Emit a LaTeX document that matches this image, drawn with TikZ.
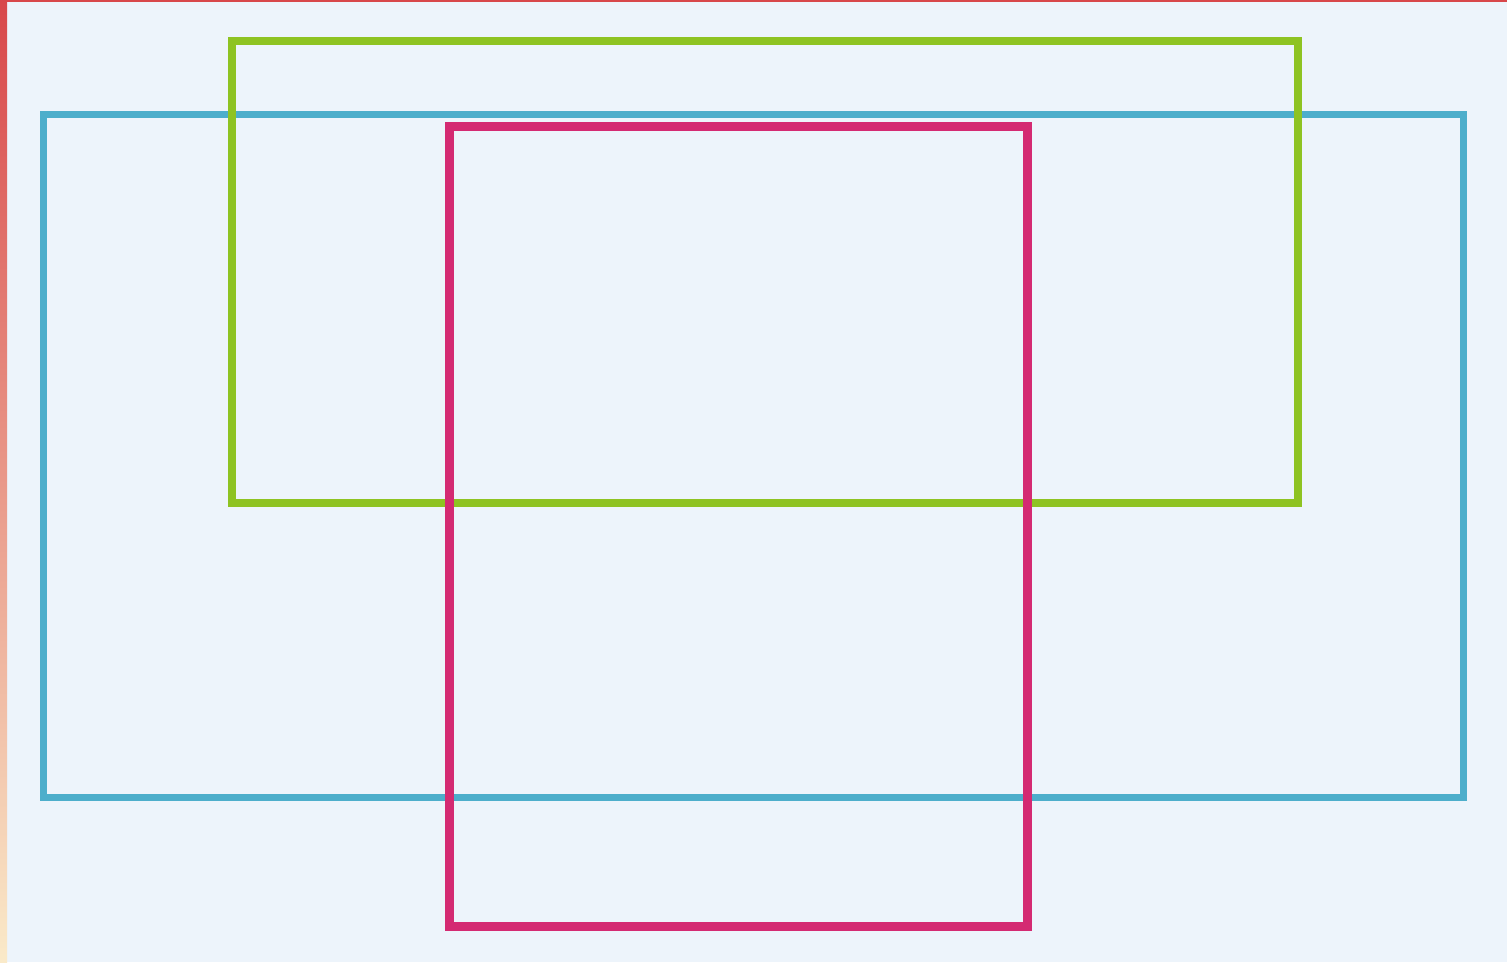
\documentclass[tikz,border=0pt]{standalone}
\definecolor{bg}{HTML}{EDF4FB}
\definecolor{cblue}{HTML}{4DAECB}
\definecolor{cgreen}{HTML}{8EC322}
\definecolor{cmag}{HTML}{D42A72}
\definecolor{stripTop}{HTML}{D8474A}
\definecolor{stripBot}{HTML}{FAEAC9}
\begin{document}
\begin{tikzpicture}[x=1pt,y=-1pt,
  frame/.style={line width=#1, line join=miter},
]
\useasboundingbox (0,0) rectangle (1507,962);
\fill[bg] (0,0) rectangle (1507,962);
\shade[top color=stripTop, bottom color=stripBot] (0,0) rectangle (7,962);
\fill[stripTop] (0,0) rectangle (1507,2);
% blue
\draw[frame=7pt, cblue] (43,114) rectangle (1463,797);
% green
\draw[frame=8pt, cgreen] (232,41) rectangle (1298,503);
% magenta
\draw[frame=9pt, cmag] (449,126) rectangle (1027,926);
\end{tikzpicture}
\end{document}
